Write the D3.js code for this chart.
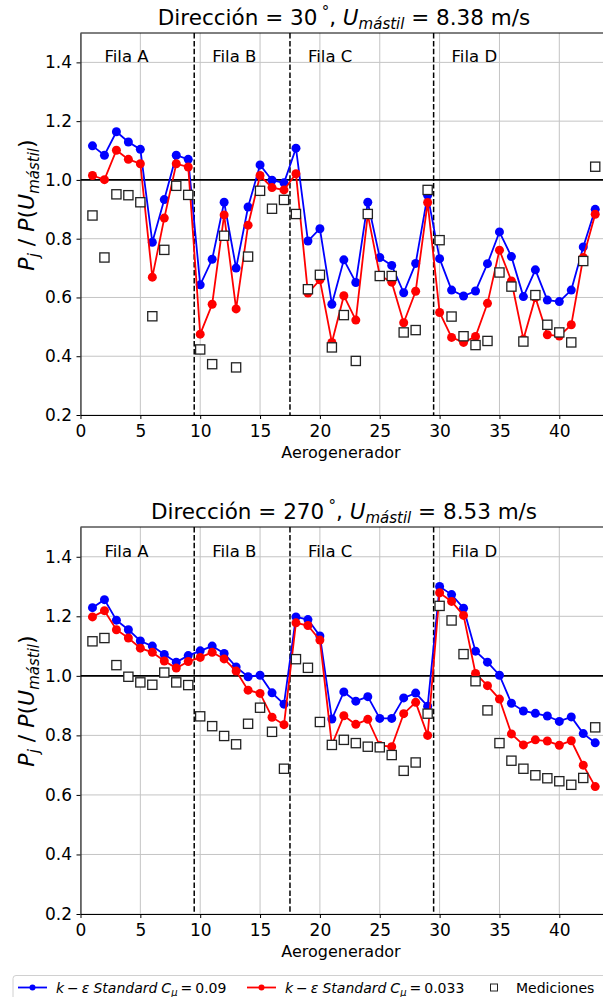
<!DOCTYPE html>
<html>
<head>
<meta charset="utf-8">
<script src="https://cdn.jsdelivr.net/npm/d3@7"></script>
<style>
  body { margin: 0; background: #fff; }
  text { font-family: 'DejaVu Sans', sans-serif; fill: #000; }
</style>
</head>
<body>
<div id="chart"></div>
<script>
// turbine numbers 1..43
let turbines = d3.range(1, 44)

// Dirección = 30°
let blue30 = [1.116, 1.084, 1.164, 1.129, 1.104, 0.788, 0.933, 1.084, 1.07, 0.643,
  0.73, 0.924, 0.70, 0.908, 1.051, 0.999, 0.99, 1.108, 0.792, 0.834,
  0.577, 0.728, 0.651, 0.924, 0.736, 0.709, 0.616, 0.716, 0.948, 0.732,
  0.625, 0.605, 0.622, 0.715, 0.823, 0.739, 0.603, 0.694, 0.591, 0.586,
  0.625, 0.772, 0.90]
let red30 = [1.015, 1.001, 1.101, 1.07, 1.055, 0.669, 0.87, 1.055, 1.044, 0.475,
  0.577, 0.881, 0.561, 0.846, 1.015, 0.974, 0.966, 1.021, 0.615, 0.66,
  0.447, 0.606, 0.523, 0.883, 0.675, 0.652, 0.514, 0.621, 0.923, 0.549,
  0.464, 0.447, 0.467, 0.58, 0.761, 0.656, 0.458, 0.60, 0.473, 0.469,
  0.507, 0.736, 0.883]
let meas30 = [0.879, 0.736, 0.951, 0.948, 0.924, 0.536, 0.762, 0.98, 0.949, 0.423,
  0.373, 0.81, 0.362, 0.739, 0.963, 0.902, 0.932, 0.884, 0.628, 0.677,
  0.43, 0.54, 0.384, 0.884, 0.673, 0.673, 0.481, 0.489, 0.966, 0.795,
  0.535, 0.468, 0.438, 0.452, 0.685, 0.637, 0.45, 0.608, 0.507, 0.481,
  0.447, 0.724, 1.045]

// Dirección = 270°
let blue270 = [1.229, 1.256, 1.187, 1.155, 1.117, 1.10, 1.072, 1.046, 1.068, 1.084,
  1.10, 1.075, 1.03, 0.997, 1.002, 0.943, 0.905, 1.198, 1.189, 1.134,
  0.855, 0.946, 0.915, 0.93, 0.857, 0.857, 0.926, 0.942, 0.898, 1.30,
  1.273, 1.227, 1.083, 1.046, 1.002, 0.908, 0.882, 0.874, 0.865, 0.847,
  0.862, 0.806, 0.775]
let red270 = [1.198, 1.219, 1.155, 1.127, 1.093, 1.079, 1.05, 1.026, 1.048, 1.062,
  1.079, 1.057, 1.016, 0.952, 0.941, 0.861, 0.836, 1.178, 1.169, 1.12,
  0.768, 0.866, 0.837, 0.854, 0.766, 0.762, 0.873, 0.911, 0.80, 1.279,
  1.25, 1.203, 1.008, 0.967, 0.922, 0.805, 0.768, 0.785, 0.781, 0.767,
  0.782, 0.70, 0.628]
let meas270 = [1.116, 1.127, 1.036, 0.997, 0.978, 0.97, 1.011, 0.978, 0.969, 0.864,
  0.831, 0.798, 0.77, 0.839, 0.893, 0.812, 0.688, 1.056, 1.027, 0.845,
  0.768, 0.785, 0.774, 0.762, 0.76, 0.734, 0.681, 0.709, 0.873, 1.235,
  1.186, 1.073, 0.982, 0.884, 0.774, 0.715, 0.688, 0.666, 0.656, 0.646,
  0.634, 0.657, 0.827]

let rowLabels = ['Fila A', 'Fila B', 'Fila C', 'Fila D']
let rowLabelX = [2, 11, 19, 31]
let rowBreaks = [9.5, 17.5, 29.5]
let xTicks = [0, 5, 10, 15, 20, 25, 30, 35, 40]
let yTicks = [0.2, 0.4, 0.6, 0.8, 1.0, 1.2, 1.4]
let cmuValues = ['0.09', '0.033']
let blue = '#0000ff', red = '#ff0000'

let width = 603, height = 997
let svg = d3.select('#chart').append('svg')
  .attr('width', width)
  .attr('height', height)

let panels = [
  { dir: '30', speed: '8.38', blue: blue30, red: red30, meas: meas30, top: 33, bottom: 415, titleY: 25, xlabY: 458, ylabY: 205 },
  { dir: '270', speed: '8.53', blue: blue270, red: red270, meas: meas270, top: 527, bottom: 914, titleY: 519, xlabY: 957, ylabY: 701 }
]

let x = d3.scaleLinear().domain([0, 43.65]).range([80.5, 603])

let drawPanel = (p, idx) => {
  let y = d3.scaleLinear().domain([0.2, 1.5]).range([p.bottom, p.top])
  let g = svg.append('g')

  let clipId = `clip${idx}`
  svg.append('clipPath').attr('id', clipId)
    .append('rect')
    .attr('x', x(0)).attr('y', p.top)
    .attr('width', width - x(0)).attr('height', p.bottom - p.top)

  // grid
  g.append('g').selectAll('line').data(xTicks).enter().append('line')
    .attr('x1', d => x(d)).attr('x2', d => x(d))
    .attr('y1', p.top).attr('y2', p.bottom)
    .attr('stroke', '#c4c4c4').attr('stroke-width', 1)
  g.append('g').selectAll('line').data(yTicks).enter().append('line')
    .attr('x1', x(0)).attr('x2', width)
    .attr('y1', d => y(d)).attr('y2', d => y(d))
    .attr('stroke', '#c4c4c4').attr('stroke-width', 1)

  // axes
  let xAxis = g.append('g')
    .attr('transform', `translate(0, ${p.bottom})`)
    .call(d3.axisBottom(x).tickValues(xTicks).tickSize(4).tickSizeOuter(0).tickPadding(6))
  let yAxis = g.append('g')
    .attr('transform', `translate(${x(0)}, 0)`)
    .call(d3.axisLeft(y).tickValues(yTicks).tickFormat(d3.format('.1f')).tickSize(4).tickSizeOuter(0).tickPadding(4.5))
  ;[xAxis, yAxis].forEach(a => {
    a.selectAll('text').style('font-size', '17px').attr('fill', '#000')
    a.selectAll('line').attr('stroke', '#000')
    a.select('.domain').attr('stroke', '#000').attr('stroke-width', 1)
  })
  g.append('line')
    .attr('x1', x(0)).attr('x2', width)
    .attr('y1', p.top).attr('y2', p.top)
    .attr('stroke', '#000').attr('stroke-width', 1)

  let plot = g.append('g').attr('clip-path', `url(#${clipId})`)

  // reference lines
  plot.append('line')
    .attr('x1', x(0)).attr('x2', width)
    .attr('y1', y(1)).attr('y2', y(1))
    .attr('stroke', '#000').attr('stroke-width', 1.6)
  plot.selectAll('.brk').data(rowBreaks).enter().append('line')
    .attr('class', 'brk')
    .attr('x1', d => x(d)).attr('x2', d => x(d))
    .attr('y1', p.top).attr('y2', p.bottom)
    .attr('stroke', '#000').attr('stroke-width', 1.5)
    .attr('stroke-dasharray', '5.5 2.4')

  let line = d3.line().x((d, i) => x(turbines[i])).y(d => y(d))
  ;[[p.blue, blue], [p.red, red]].forEach(([vals, col]) => {
    plot.append('path')
      .datum(vals)
      .attr('d', line)
      .attr('fill', 'none')
      .attr('stroke', col)
      .attr('stroke-width', 1.8)
    plot.append('g').selectAll('circle').data(vals).enter().append('circle')
      .attr('cx', (d, i) => x(turbines[i]))
      .attr('cy', d => y(d))
      .attr('r', 4.5)
      .attr('fill', col)
  })

  plot.append('g').selectAll('rect').data(p.meas).enter().append('rect')
    .attr('x', (d, i) => x(turbines[i]) - 4.6)
    .attr('y', d => y(d) - 4.6)
    .attr('width', 9.2).attr('height', 9.2)
    .attr('fill', '#fff')
    .attr('stroke', '#222')
    .attr('stroke-width', 1.3)

  // row labels
  g.selectAll('.fila').data(rowLabels).enter().append('text')
    .attr('class', 'fila')
    .attr('x', (d, i) => x(rowLabelX[i]))
    .attr('y', y(1.4))
    .style('font-size', '16.5px')
    .text(d => d)

  // title
  let t = g.append('text')
    .attr('x', 344).attr('y', p.titleY)
    .attr('text-anchor', 'middle')
    .style('font-size', '21.5px')
  t.append('tspan').text(`Dirección = ${p.dir}\u2009`)
  t.append('tspan').attr('dy', -8).style('font-size', '15px').text('°')
  t.append('tspan').attr('dy', 8).text(', ')
  t.append('tspan').style('font-style', 'italic').text('U')
  t.append('tspan').attr('dy', 4).style('font-style', 'italic').style('font-size', '15px').text('mástil')
  t.append('tspan').attr('dy', -4).text(` = ${p.speed} m/s`)

  // x label
  g.append('text')
    .attr('x', 341).attr('y', p.xlabY)
    .attr('text-anchor', 'middle')
    .style('font-size', '16px')
    .text('Aerogenerador')

  // y label
  let yl = g.append('text')
    .attr('transform', `translate(34, ${p.ylabY}) rotate(-90)`)
    .attr('text-anchor', 'middle')
    .style('font-size', '22px')
  yl.append('tspan').style('font-style', 'italic').text('P')
  yl.append('tspan').attr('dy', 5).style('font-style', 'italic').style('font-size', '15px').text('j')
  yl.append('tspan').attr('dy', -5).text(' / ')
  yl.append('tspan').style('font-style', 'italic').text('P')
  yl.append('tspan').text('(')
  yl.append('tspan').style('font-style', 'italic').text('U')
  yl.append('tspan').attr('dy', 5).style('font-style', 'italic').style('font-size', '15px').text('mástil')
  yl.append('tspan').attr('dy', -5).text(')')
}

panels.forEach(drawPanel)

// legend
let leg = svg.append('g')
leg.append('rect')
  .attr('x', 13).attr('y', 975.5)
  .attr('width', 620).attr('height', 40)
  .attr('rx', 3)
  .attr('fill', '#fff')
  .attr('stroke', '#d0d0d0')
  .attr('stroke-width', 1)

let legY = 987.5
let legFont = '14px'
let addModelLabel = (xPos, c) => {
  let tx = leg.append('text').attr('x', xPos).attr('y', legY + 5).style('font-size', legFont)
  tx.append('tspan').style('font-style', 'italic').text('k')
  tx.append('tspan').attr('dx', 3).text('−')
  tx.append('tspan').attr('dx', 3).style('font-style', 'italic').text('ε')
  tx.append('tspan').attr('dx', 4).style('font-style', 'italic').text('Standard')
  tx.append('tspan').attr('dx', 4).style('font-style', 'italic').text('C')
  tx.append('tspan').attr('dy', 3).style('font-style', 'italic').style('font-size', '10px').text('μ')
  tx.append('tspan').attr('dy', -3).attr('dx', 3).text('=')
  tx.append('tspan').attr('dx', 3).text(c)
}

let handleX = [18, 247]
;[blue, red].forEach((col, i) => {
  let hx = handleX[i]
  leg.append('line')
    .attr('x1', hx).attr('x2', hx + 29)
    .attr('y1', legY).attr('y2', legY)
    .attr('stroke', col).attr('stroke-width', 1.8)
  leg.append('circle')
    .attr('cx', hx + 14.5).attr('cy', legY).attr('r', 3)
    .attr('fill', col)
  addModelLabel(hx + 38, cmuValues[i])
})
leg.append('rect')
  .attr('x', 494 - 3.5).attr('y', legY - 3.5)
  .attr('width', 7).attr('height', 7)
  .attr('fill', '#fff').attr('stroke', '#222').attr('stroke-width', 1)
leg.append('text')
  .attr('x', 516).attr('y', legY + 5)
  .style('font-size', legFont)
  .text('Mediciones')
</script>
</body>
</html>
